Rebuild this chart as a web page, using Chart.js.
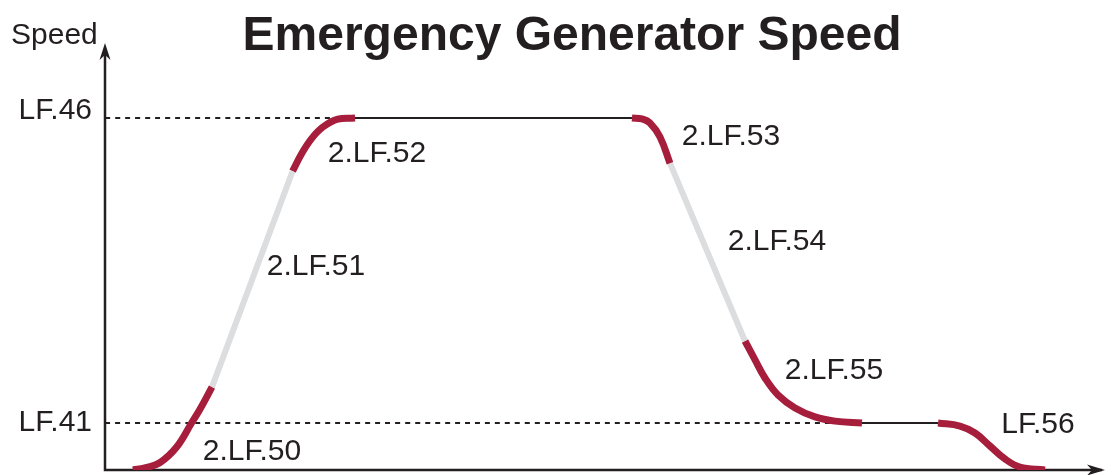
<!DOCTYPE html>
<html>
<head>
<meta charset="utf-8">
<title>Emergency Generator Speed</title>
<script src="https://cdn.jsdelivr.net/npm/chart.js@4.4.1/dist/chart.umd.min.js"></script>
<style>
  html, body { margin: 0; padding: 0; background: #fff; }
  #wrap { width: 1115px; height: 475px; position: relative; }
</style>
</head>
<body>
<div id="wrap"><canvas id="speedChart"></canvas></div>
<script>
// speed in % of full scale, time in % of the sequence
const levelNames = ['LF.41', 'LF.46'];
const levelValues = [11.06, 82.8];
const levelDashEnd = [73.4, 38.2];   // where each dotted reference stops

// run-up
const seg50Time = [2.8, 4.0, 5.5, 7.2, 8.7, 9.5, 10.75];
const seg50Speed = [0, 0.5, 1.7, 5.4, 11.06, 14.1, 19.5];
const seg51Time = [10.75, 18.85];
const seg51Speed = [19.5, 70.3];
const seg52Time = [18.85, 19.8, 20.8, 21.9, 23.4, 25.13];
const seg52Speed = [70.3, 74.6, 78.1, 80.7, 82.55, 82.8];
// running at rated speed
const holdHighTime = [25.13, 52.96];
const holdHighSpeed = [82.8, 82.8];
// run-down
const seg53Time = [52.96, 53.97, 54.77, 55.78, 56.78];
const seg53Speed = [82.8, 82.6, 81.65, 78.35, 72.2];
const seg54Time = [56.78, 64.32];
const seg54Speed = [72.2, 30.35];
const seg55Time = [64.32, 65.33, 66.33, 67.64, 69.35, 71.36, 73.37, 76.08];
const seg55Speed = [30.35, 25.9, 21.65, 17.65, 14.6, 12.5, 11.5, 11.06];
const holdLowTime = [76.08, 83.72];
const holdLowSpeed = [11.06, 11.06];
const seg56Time = [83.72, 85.93, 87.44, 88.94, 90.45, 91.96, 94.47];
const seg56Speed = [11.06, 10.35, 8.7, 5.65, 2.6, 0.7, 0];

const segmentNames = ['2.LF.50', '2.LF.51', '2.LF.52', '2.LF.53', '2.LF.54', '2.LF.55', 'LF.56'];

// where the segment names sit (time, speed)
const labelAnchors = [
  [14.77, 4.24], [21.21, 47.76], [27.34, 74.35], [62.91, 78.35],
  [67.54, 53.65], [73.27, 23.29], [93.77, 10.59]
];

const ink = '#231f20';
const crimson = '#a61e3c';
const grey = '#dcdddf';
const font = '"Liberation Sans", Arial, Helvetica, sans-serif';

function pts(xs, ys) {
  return xs.map((t, i) => ({x: t, y: ys[i]}));
}

function curve(xs, ys, color, width, order) {
  return {
    data: pts(xs, ys),
    borderColor: color,
    borderWidth: width,
    tension: 0.4,
    pointRadius: 0,
    fill: false,
    order: order
  };
}

const datasets = [
  curve(seg50Time, seg50Speed, crimson, 7, 0),
  curve(seg51Time, seg51Speed, grey, 6, 0),
  curve(seg52Time, seg52Speed, crimson, 7, 0),
  curve(seg53Time, seg53Speed, crimson, 7, 0),
  curve(seg54Time, seg54Speed, grey, 6, 0),
  curve(seg55Time, seg55Speed, crimson, 7, 0),
  curve(seg56Time, seg56Speed, crimson, 7, 0),
  curve(holdHighTime, holdHighSpeed, ink, 2, 1),
  curve(holdLowTime, holdLowSpeed, ink, 2, 1)
];

// dotted reference lines from the speed axis
levelValues.forEach((v, i) => {
  const ds = curve([0, levelDashEnd[i]], [v, v], ink, 2, 2);
  ds.borderDash = [5, 5];
  datasets.push(ds);
});

function arrowHead(ctx, x, y, dir) {
  ctx.beginPath();
  if (dir === 'up') {
    ctx.moveTo(x, y);
    ctx.lineTo(x - 5.5, y + 17);
    ctx.lineTo(x, y + 12);
    ctx.lineTo(x + 5.5, y + 17);
  } else {
    ctx.moveTo(x, y);
    ctx.lineTo(x - 18, y - 5.5);
    ctx.lineTo(x - 13, y);
    ctx.lineTo(x - 18, y + 5.5);
  }
  ctx.closePath();
  ctx.fill();
}

const axesAndText = {
  id: 'axesAndText',
  beforeDatasetsDraw(chart) {
    const {ctx, chartArea: a, scales: {x, y}} = chart;
    const x0 = x.getPixelForValue(0);
    const y0 = y.getPixelForValue(0);
    ctx.save();
    ctx.strokeStyle = ink;
    ctx.lineWidth = 2.5;
    ctx.beginPath();
    ctx.moveTo(x0, a.top + 4);
    ctx.lineTo(x0, y0);
    ctx.lineTo(a.right + 2, y0);
    ctx.stroke();
    ctx.restore();
  },
  afterDraw(chart) {
    const {ctx, chartArea: a, scales: {x, y}} = chart;
    const x0 = x.getPixelForValue(0);
    const y0 = y.getPixelForValue(0);
    ctx.save();
    ctx.fillStyle = ink;
    arrowHead(ctx, x0, a.top - 2, 'up');
    arrowHead(ctx, a.right + 5, y0, 'right');

    ctx.font = 'bold 48px ' + font;
    ctx.textAlign = 'center';
    ctx.textBaseline = 'alphabetic';
    ctx.fillText('Emergency Generator Speed', 572, 50);

    ctx.font = '30px ' + font;
    ctx.textAlign = 'left';
    ctx.fillText('Speed', 11, 44);

    ctx.textAlign = 'right';
    ctx.textBaseline = 'middle';
    ctx.fillText(levelNames[0], x0 - 13, y.getPixelForValue(levelValues[0]));
    ctx.fillText(levelNames[1], x0 - 13, y.getPixelForValue(levelValues[1]) - 7);

    ctx.textAlign = 'center';
    segmentNames.forEach((name, i) => {
      const [t, s] = labelAnchors[i];
      ctx.fillText(name, x.getPixelForValue(t), y.getPixelForValue(s));
    });
    ctx.restore();
  }
};

new Chart(document.getElementById('speedChart'), {
  type: 'line',
  data: {datasets: datasets},
  options: {
    responsive: true,
    maintainAspectRatio: false,
    animation: false,
    layout: {padding: {left: 105, right: 15, top: 45, bottom: 5}},
    scales: {
      x: {type: 'linear', min: 0, max: 100, display: false},
      y: {type: 'linear', min: 0, max: 100, display: false}
    },
    plugins: {
      legend: {display: false},
      tooltip: {enabled: false}
    }
  },
  plugins: [axesAndText]
});
</script>
</body>
</html>
